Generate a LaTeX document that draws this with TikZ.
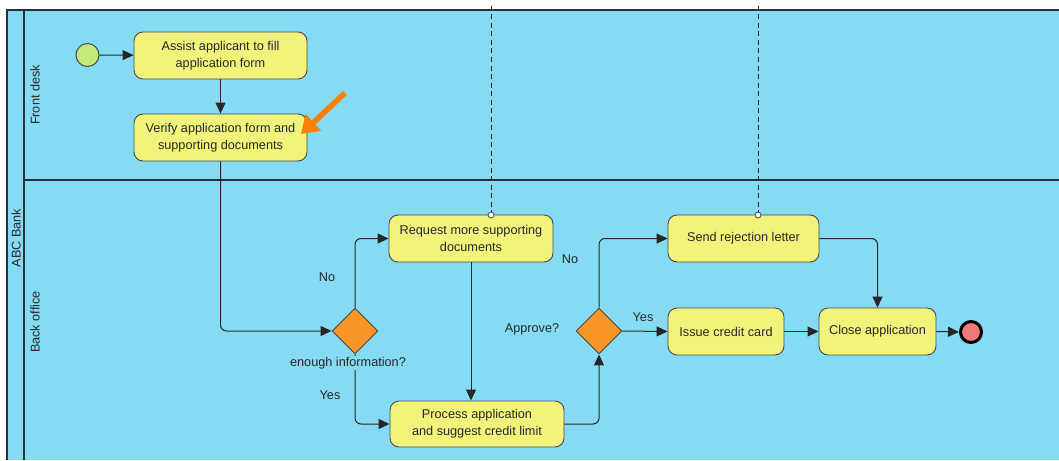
\documentclass[tikz,border=0pt]{standalone}
\usepackage{fontspec}
\setmainfont{Liberation Sans}
\usepackage{xcolor}
\usetikzlibrary{shapes.geometric}
\usetikzlibrary{arrows.meta}
\definecolor{poolblue}{RGB}{134,219,244}
\definecolor{poolline}{RGB}{40,48,56}
\definecolor{taskfill}{RGB}{241,243,123}
\definecolor{taskline}{RGB}{70,74,78}
\definecolor{gatefill}{RGB}{249,150,42}
\definecolor{startfill}{RGB}{198,234,120}
\definecolor{endfill}{RGB}{241,120,120}
\definecolor{hintorange}{RGB}{255,128,0}
\definecolor{textcol}{RGB}{40,40,40}
\newcommand{\bpmnfont}{\fontsize{12.7}{17}\selectfont}
\tikzset{
	task/.style={draw=taskline, fill=taskfill, line width=0.9pt, rounded corners=9pt,
			minimum height=47pt, align=center, inner sep=2pt, font=\bpmnfont, text=textcol},
	gateway/.style={diamond, draw=taskline, fill=gatefill, line width=0.9pt,
			minimum width=46pt, minimum height=46pt, inner sep=0pt},
	flow/.style={draw=black!85, line width=1pt, rounded corners=6pt,
			-{Triangle[length=11pt,width=10pt]}},
	flowlabel/.style={font=\bpmnfont, text=textcol, inner sep=1pt},
	lanelabel/.style={font=\bpmnfont, text=textcol, rotate=90},
	assoc/.style={black!85, line width=1pt, dash pattern=on 5pt off 3.5pt}
}

\begin{document}
\begin{tikzpicture}[x=1pt,y=-1pt]
		\useasboundingbox (0,0) rectangle (1059,460);
		% pool and lanes
		\fill[white] (0,0) rectangle (1059,460);
		\fill[poolblue] (7,10) rectangle (1059,460);
		\draw[poolline, line width=1.5pt] (7,460) -- (7,10) -- (1059,10);
		\draw[poolline, line width=1.5pt] (24,10) -- (24,460);
		\draw[poolline, line width=1.5pt] (24,180) -- (1059,180);
		\node[lanelabel] (pool) at (16,238) {ABC Bank};
		\node[lanelabel] (front) at (35,95) {Front desk};
		\node[lanelabel] (back) at (35,322) {Back office};

		\node[circle, draw=taskline, line width=1pt, fill=startfill, minimum size=23pt, inner sep=0pt] (start) at (87.5,55) {};
		\node[task, minimum width=173pt] (assist) at (220.5,55.5) {Assist applicant to fill\\application form};
		\node[task, minimum width=173pt] (verify) at (220.5,137.5) {Verify application form and\\supporting documents};
		\node[gateway] (enough) at (355,331) {};
		\node[task, minimum width=164pt] (request) at (471,238.5) {Request more supporting\\documents};
		\node[task, minimum width=174pt, minimum height=46pt] (process) at (477,424) {Process application\\and suggest credit limit};
		\node[gateway] (approve) at (599,331) {};
		\node[task, minimum width=151pt] (reject) at (743.5,238.5) {Send rejection letter};
		\node[task, minimum width=116pt] (issue) at (726,331.5) {Issue credit card};
		\node[task, minimum width=117pt] (close) at (877.5,331.5) {Close application};
		\node[circle, draw=black, line width=3pt, fill=endfill, minimum size=21pt, inner sep=0pt] (finish) at (971,332) {};

		\draw[flow] (start) -- (assist);
		\draw[flow] (assist) -- (verify);
		\draw[flow] (verify.south) |- (enough.west);
		\draw[flow] (enough.north) |- (request.west);
		\draw[flow] (enough.south) |- (process.west);
		\draw[flow] (request.south) -- (request.south |- process.north);
		\draw[flow] (process.east) -| (approve.south);
		\draw[flow] (approve.north) |- (reject.west);
		\draw[flow] (approve.east) -- (issue.west);
		\draw[flow] (issue.east) -- (close.west);
		\draw[flow] (reject.east) -| (close.north);
		\draw[flow] (close.east) -- (finish.west);

		\node[flowlabel, fill=poolblue] (enoughlbl) at (348,363) {enough information?};
		\node[flowlabel] (no1) at (327,277) {No};
		\node[flowlabel] (yes1) at (330,395) {Yes};
		\node[flowlabel] (approvelbl) at (532,329) {Approve?};
		\node[flowlabel] (no2) at (570,259) {No};
		\node[flowlabel] (yes2) at (643,317) {Yes};

		% associations from above
		\coordinate (top1) at (491,6);
		\coordinate (dot1) at (491,215);
		\coordinate (top2) at (758,6);
		\coordinate (dot2) at (758,215);
		\draw[assoc] (top1) -- (dot1);
		\draw[assoc] (top2) -- (dot2);
		\filldraw[draw=taskline, fill=white, line width=0.8pt] (dot1) circle (3pt);
		\filldraw[draw=taskline, fill=white, line width=0.8pt] (dot2) circle (3pt);

		% hint arrow
		\coordinate (hintfrom) at (345,93);
		\coordinate (hintto) at (301,134);
		\draw[hintorange, line width=5.5pt, -{Triangle[length=17pt,width=22pt]}] (hintfrom) -- (hintto);
	\end{tikzpicture}
\end{document}
